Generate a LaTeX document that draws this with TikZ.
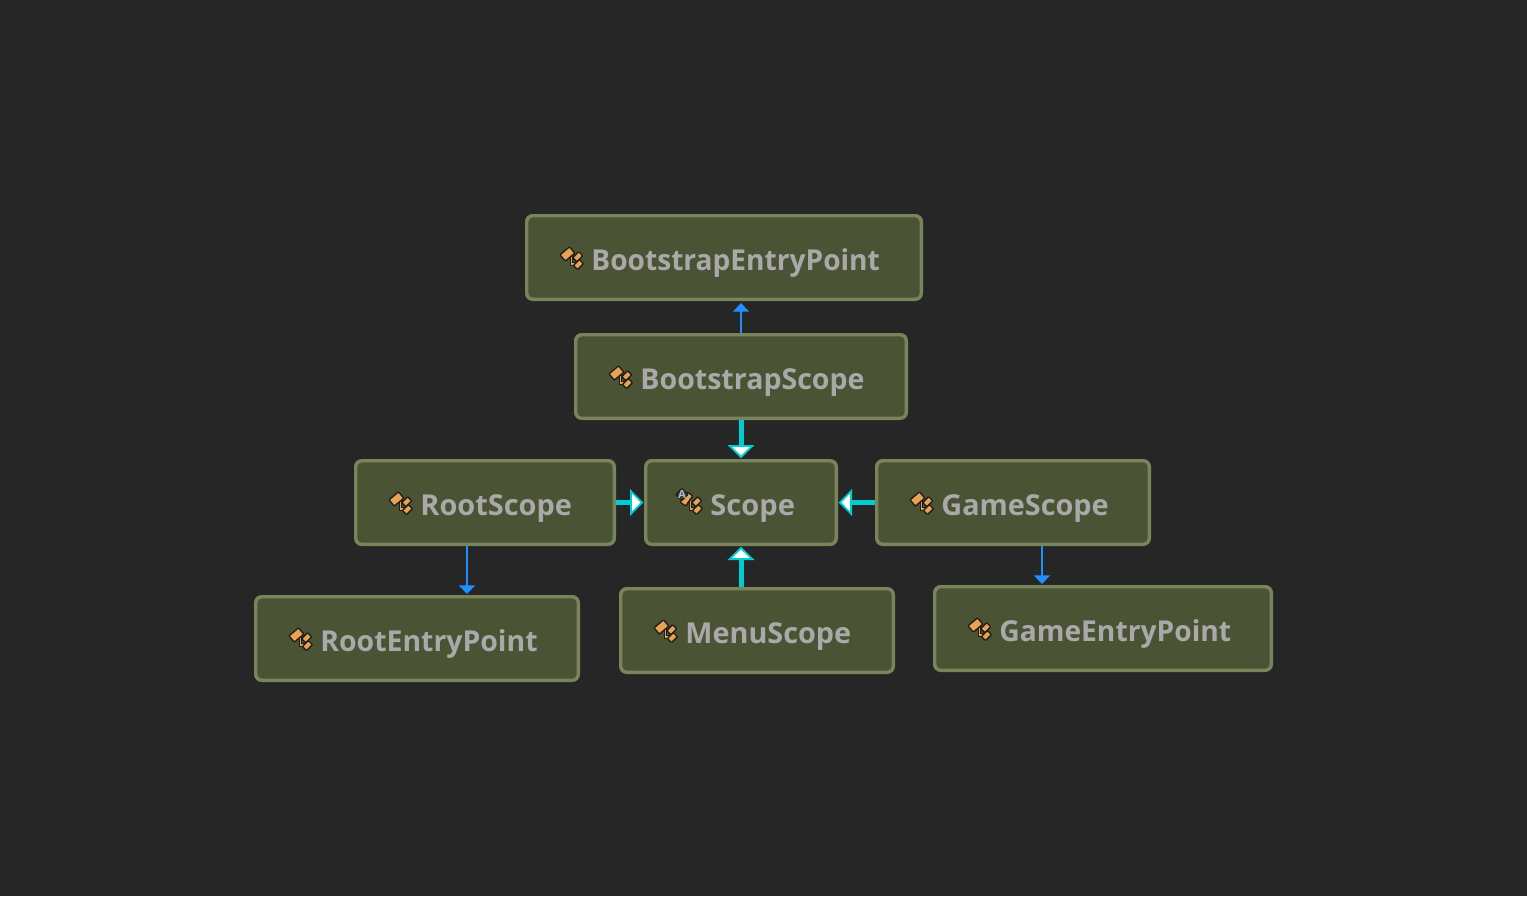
\documentclass[tikz,border=0pt]{standalone}
\usepackage{fontspec}
\setmainfont{Open Sans}
\usetikzlibrary{arrows.meta,calc}
\definecolor{bgc}{HTML}{262626}
\definecolor{boxfill}{HTML}{4B5335}
\definecolor{boxline}{HTML}{78845A}
\definecolor{labelc}{HTML}{A9A9A9}
\definecolor{cyanl}{HTML}{00CDD0}
\definecolor{bluel}{HTML}{1E90FF}
\definecolor{iconor}{HTML}{E9A24F}
\definecolor{icondk}{HTML}{1E1E1E}
\definecolor{icongr}{HTML}{B5B5B5}
\tikzset{
  boxnode/.style={draw=boxline,fill=boxfill,line width=2.6pt,rounded corners=4.5pt,inner sep=0pt},
  lbl/.style={text=labelc,font=\bfseries\fontsize{21.6pt}{24pt}\selectfont,inner sep=0pt,outer sep=0pt},
  inherit/.style={draw=cyanl,line width=3.75pt,-{Triangle[width=20pt,length=10pt,fill=white,line width=1.4pt,color=cyanl,fill=white]},shorten >=0.5pt},
  usesrel/.style={draw=bluel,line width=1.2pt,-{Triangle[width=12pt,length=6.5pt]},shorten >=0.75pt,color=bluel},
  part/.style={draw=icondk,fill=iconor,line width=1pt,rounded corners=0.6pt},
  ikon/.pic={
    \draw[icondk,line width=2.6pt] (4,2) -- (4,10) -- (11,10);
    \draw[iconor,line width=1pt] (4,2) -- (4,10) -- (11,10);
    \begin{scope}[rotate=40]\draw[part] (-6.2,-4.1) rectangle (6.2,4.1);\end{scope}
    \begin{scope}[shift={(10.3,2.7)},rotate=45]\draw[part] (-4.2,-2.9) rectangle (4.2,2.9);\end{scope}
    \begin{scope}[shift={(11,10.6)},rotate=45]\draw[part] (-4.2,-2.9) rectangle (4.2,2.9);\end{scope}
  },
  akon/.pic={
    \draw[icondk,line width=2.6pt] (4,2) -- (4,10) -- (11,10);
    \draw[iconor,line width=1pt] (4,2) -- (4,10) -- (11,10);
    \begin{scope}[rotate=55]\draw[part] (-6.2,-3.4) rectangle (6.2,3.4);\end{scope}
    \begin{scope}[shift={(10.3,2.7)},rotate=45]\draw[part] (-4.2,-2.9) rectangle (4.2,2.9);\end{scope}
    \begin{scope}[shift={(11,10.6)},rotate=45]\draw[part] (-4.2,-2.9) rectangle (4.2,2.9);\end{scope}
    \begin{scope}[shift={(-4.5,-4.5)},rotate=45]\draw[part,fill=icondk!80!icongr] (-4.3,-4.3) rectangle (4.3,4.3);\end{scope}
    \node[text=icongr,font=\bfseries\fontsize{8.5pt}{9pt}\selectfont,inner sep=0pt] (akonA) at (-4.5,-4.5) {A};
  }
}
\newcommand{\classbox}[8]{%
  \node[boxnode,anchor=north west,minimum width={(#4-#2)*0.75pt-2.6pt},minimum height={(#5-#3)*0.75pt-2.6pt}] (#1) at (#2,#3) {};
  \pic at ($(#1.north west)+(42.4,40)$) {#7};
  \node[lbl,anchor=base west] (#1t) at ($(#1.north west)+(66.4,56)$) {\scalebox{#8}[1]{#6}};
}
\begin{document}
\begin{tikzpicture}[x=0.75pt,y=-0.75pt]
\fill[bgc] (0,0) rectangle (1527,896);
\useasboundingbox (0,0) rectangle (1527,896);
\classbox{bep}{525}{214}{923}{301}{BootstrapEntryPoint}{ikon}{0.976}
\classbox{bs}{574}{333}{908}{420}{BootstrapScope}{ikon}{0.991}
\classbox{rs}{354}{459}{616}{546}{RootScope}{ikon}{1.005}
\classbox{sc}{644}{459}{838}{546}{Scope}{akon}{1.01}
\classbox{gs}{875}{459}{1151}{546}{GameScope}{ikon}{1}
\classbox{rep}{254}{595}{580}{682}{RootEntryPoint}{ikon}{0.986}
\classbox{ms}{619}{587}{895}{674}{MenuScope}{ikon}{1}
\classbox{gep}{933}{585}{1273}{672}{GameEntryPoint}{ikon}{0.979}
\coordinate (xa) at (741,0);
\coordinate (xb) at (467,0);
\coordinate (xc) at (1042,0);
\coordinate (ya) at (0,502.5);
\draw[usesrel,shorten >=1.5pt] (bs.north -| xa) -- (bep.south -| xa);
\draw[usesrel] (rs.south -| xb) -- (rep.north -| xb);
\draw[usesrel] (gs.south -| xc) -- (gep.north -| xc);
\draw[inherit] (bs.south -| xa) -- (sc.north -| xa);
\draw[inherit] (ms.north -| xa) -- (sc.south -| xa);
\draw[inherit] (rs.east |- ya) -- (sc.west |- ya);
\draw[inherit] (gs.west |- ya) -- (sc.east |- ya);
\end{tikzpicture}
\end{document}
